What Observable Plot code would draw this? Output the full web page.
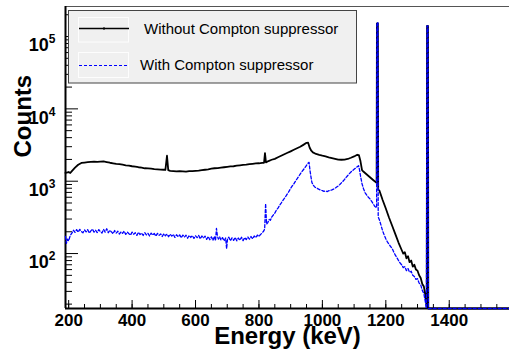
<!DOCTYPE html>
<html><head><meta charset="utf-8">
<script src="https://cdn.jsdelivr.net/npm/d3@7"></script>
<script src="https://cdn.jsdelivr.net/npm/@observablehq/plot@0.6"></script>
<style>body{margin:0;background:#fff} svg{display:block}</style>
</head><body><div id="chart"></div>
<script>
// Energy (keV), counts — spectrum without Compton suppressor
const withoutSuppressor = [
[190,1300],[200,1340],[205,1300],[210,1380],[220,1540],[230,1690],[240,1790],[250,1810],[260,1830],[270,1850],
[280,1860],[290,1850],[300,1870],[310,1880],[320,1840],[330,1800],[340,1770],[350,1740],[360,1720],[370,1690],
[380,1660],[390,1640],[400,1610],[410,1590],[420,1560],[430,1540],[440,1510],[450,1500],[460,1490],[470,1470],
[480,1460],[490,1450],[500,1440],[505,1430],[510,2250],[514,1420],[520,1390],[530,1380],[540,1370],[550,1380],
[560,1370],[570,1360],[580,1380],[590,1380],[600,1390],[610,1400],[620,1420],[630,1440],[640,1460],[650,1490],
[660,1510],[670,1520],[680,1540],[690,1560],[700,1580],[710,1600],[720,1610],[730,1640],[740,1660],[750,1680],
[760,1690],[770,1720],[780,1740],[790,1760],[800,1770],[810,1790],[816,1800],[819,2450],[822,1820],[830,1900],
[840,1980],[850,2040],[860,2140],[870,2250],[880,2360],[890,2470],[900,2590],[910,2720],[920,2850],[930,2990],
[940,3180],[950,3390],[955,3400],[960,2900],[965,2640],[970,2500],[980,2380],[990,2310],[1000,2250],[1010,2200],
[1020,2140],[1030,2090],[1040,2040],[1050,1990],[1060,1980],[1070,1990],[1080,2030],[1090,2110],[1100,2200],[1110,2320],
[1115,2300],[1120,1900],[1125,1420],[1130,1350],[1140,1240],[1150,1135],[1160,1040],[1170,955],[1171,950],[1172,152000],
[1175,152000],[1176,770],[1180,740],[1190,550],[1200,420],[1210,315],[1220,242],[1230,186],[1240,142],[1250,112],
[1255,100],[1260,104],[1265,86],[1270,92],[1275,76],[1280,80],[1285,66],[1290,70],[1295,60],[1300,58],
[1305,50],[1310,46],[1315,38],[1320,35],[1325,26],[1329,18],[1330,140000],[1333,140000],[1334,0],[1590,0]
];
// Energy (keV), counts — spectrum with Compton suppressor
const withSuppressor = [
[190,172],[193,138],[196,158],[200,150],[205,178],[210,192],[215,210],[220,196],[225,214],[230,198],
[235,216],[240,202],[245,194],[250,212],[255,199],[260,214],[265,192],[270,206],[275,218],[280,198],
[285,210],[290,195],[295,214],[300,200],[305,192],[310,216],[315,198],[320,220],[325,194],[330,210],
[335,199],[340,188],[345,208],[350,192],[355,203],[360,186],[365,200],[370,190],[375,204],[380,184],
[385,198],[390,188],[395,180],[400,198],[405,185],[410,194],[415,178],[420,197],[425,183],[430,192],
[435,178],[440,194],[445,181],[450,190],[455,175],[460,192],[465,180],[470,189],[475,174],[480,190],
[485,178],[490,187],[495,172],[500,188],[505,176],[510,186],[515,171],[520,185],[525,174],[530,184],
[535,167],[540,182],[545,171],[550,181],[555,165],[560,180],[565,169],[570,179],[575,163],[580,178],
[585,167],[590,177],[595,162],[600,176],[605,166],[610,178],[615,160],[620,175],[625,164],[630,174],
[635,157],[640,172],[645,155],[650,170],[655,152],[660,174],[663,150],[666,222],[669,176],[672,158],
[676,170],[680,154],[685,166],[690,150],[695,164],[698,117],[701,162],[705,168],[710,150],[715,165],
[720,152],[725,167],[730,150],[735,164],[740,153],[745,168],[750,151],[755,166],[760,156],[765,170],
[770,158],[775,172],[780,160],[785,175],[790,166],[795,180],[800,172],[805,184],[810,192],[815,205],
[818,218],[821,490],[824,255],[828,268],[832,296],[836,288],[840,318],[845,340],[850,362],[855,398],
[860,425],[865,462],[870,498],[875,540],[880,578],[885,622],[890,672],[895,728],[900,795],[905,860],
[910,918],[915,1000],[920,1075],[925,1160],[930,1255],[935,1350],[940,1440],[945,1540],[950,1660],[955,1780],
[958,1820],[961,1400],[964,1150],[967,960],[970,900],[975,840],[980,812],[985,790],[990,770],[995,752],
[1000,740],[1005,722],[1010,736],[1015,718],[1020,738],[1025,744],[1030,758],[1035,776],[1040,800],[1045,830],
[1050,860],[1055,900],[1060,948],[1065,1000],[1070,1060],[1075,1130],[1080,1200],[1085,1270],[1090,1340],[1095,1400],
[1100,1460],[1105,1520],[1110,1590],[1114,1640],[1117,1450],[1120,1200],[1125,920],[1130,780],[1135,690],[1140,640],
[1145,600],[1150,570],[1155,530],[1160,490],[1165,450],[1170,430],[1171,430],[1172,155000],[1175,155000],[1176,320],
[1180,290],[1185,245],[1190,205],[1195,180],[1200,160],[1205,145],[1210,135],[1215,125],[1220,118],[1225,105],
[1230,95],[1235,88],[1240,80],[1245,74],[1250,70],[1255,64],[1260,66],[1265,58],[1270,62],[1275,55],
[1280,57],[1285,50],[1290,48],[1295,44],[1300,45],[1305,39],[1310,37],[1315,31],[1320,28],[1325,21],
[1328,17],[1330,140000],[1333,140000],[1334,0],[1590,0]
];
const seriesNames = ["Without Compton suppressor", "With Compton suppressor"];
const xMajorTicks = [200, 400, 600, 800, 1000, 1200, 1400];
const yMajorTicks = [100, 1000, 10000, 100000];
const xTitle = "Energy (keV)";
const yTitle = "Counts";

const X_DOMAIN = [190, 1590];
const Y_DOMAIN = [17.4, 2.6e5];
const xMinorTicks = d3.range(200, 1590, 50);
const yMinorTicks = [10, 100, 1000, 10000, 100000]
  .flatMap(d => [2,3,4,5,6,7,8,9].map(k => k * d))
  .filter(v => v >= Y_DOMAIN[0] && v <= Y_DOMAIN[1]);

const floorY = v => Math.max(v, Y_DOMAIN[0]);
const FONT = "'Liberation Sans', Arial, Helvetica, sans-serif";

const svg = Plot.plot({
  width: 509, height: 352,
  marginLeft: 65, marginRight: 0, marginTop: 6, marginBottom: 44,
  style: {fontFamily: FONT, background: "white", overflow: "visible"},
  x: {domain: X_DOMAIN},
  y: {type: "log", domain: Y_DOMAIN},
  marks: [
    Plot.ruleY([Y_DOMAIN[1]], {stroke: "#555", strokeWidth: 1}),
    Plot.axisX({ticks: xMinorTicks, tickSize: -4, text: null, stroke: "black", strokeWidth: 1}),
    Plot.axisX({ticks: xMajorTicks, tickSize: -8, text: null, stroke: "black", strokeWidth: 1}),
    Plot.axisX({ticks: xMajorTicks, tickSize: 0, tickPadding: 5, tickFormat: d => String(d), fontSize: 17, fontWeight: "bold", fill: "black"}),
    Plot.axisY({ticks: yMinorTicks, tickSize: -7, text: null, stroke: "black", strokeWidth: 1}),
    Plot.axisY({ticks: yMajorTicks, tickSize: -13, text: null, stroke: "black", strokeWidth: 1}),
    Plot.axisY({ticks: yMajorTicks, tickSize: 0, tickPadding: 10, tickFormat: d => String(Math.round(Math.log10(d))), fontSize: 18, fontWeight: "bold", fill: "black"}),
    Plot.line(withoutSuppressor, {x: d => d[0], y: d => floorY(d[1]), stroke: "black", strokeWidth: 1.8, strokeLinejoin: "round"}),
    Plot.ruleX([X_DOMAIN[0]], {stroke: "black", strokeWidth: 2}),
    Plot.ruleY([Y_DOMAIN[0]], {stroke: "black", strokeWidth: 2}),
    Plot.line(withSuppressor, {x: d => d[0], y: d => floorY(d[1]), stroke: "#0000ff", strokeWidth: 1.3, strokeDasharray: "3,2"}),
    Plot.text([xTitle], {frameAnchor: "bottom", dy: 35, lineAnchor: "bottom", fontSize: 24, fontWeight: "bold", fill: "black"}),
    Plot.text([yTitle], {frameAnchor: "left", dx: -35, rotate: -90, lineAnchor: "bottom", fontSize: 24, fontWeight: "bold", fill: "black"})
  ]
});
document.getElementById("chart").appendChild(svg);

// y tick labels as 10^n with superscript
d3.select(svg).selectAll('g[aria-label="y-axis tick label"] text').each(function() {
  const t = d3.select(this);
  const e = t.text().trim();
  if (!/^\d$/.test(e)) return;
  t.text("");
  t.attr("dy", null);
  t.append("tspan").attr("dy", "0.5em").text("10");
  t.append("tspan").attr("dy", "-8").attr("font-size", 12).text(e);
});

// legend
const lg = d3.select(svg).append("g").attr("font-family", FONT).attr("text-anchor", "start");
lg.append("rect").attr("x", 68.5).attr("y", 10.5).attr("width", 288).attr("height", 72.5)
  .attr("fill", "#f0f0f0").attr("stroke", "#444").attr("stroke-width", 1);
lg.append("rect").attr("x", 78.5).attr("y", 17.5).attr("width", 50).attr("height", 24.5)
  .attr("fill", "none").attr("stroke", "#fdfdfd");
lg.append("rect").attr("x", 78.5).attr("y", 52.5).attr("width", 50).attr("height", 25)
  .attr("fill", "none").attr("stroke", "#fdfdfd");
lg.append("line").attr("x1", 79).attr("x2", 129).attr("y1", 28.5).attr("y2", 28.5)
  .attr("stroke", "black").attr("stroke-width", 1.4);
lg.append("line").attr("x1", 104).attr("x2", 104).attr("y1", 27).attr("y2", 30)
  .attr("stroke", "black").attr("stroke-width", 1);
lg.append("line").attr("x1", 79).attr("x2", 129).attr("y1", 65.5).attr("y2", 65.5)
  .attr("stroke", "#0000ff").attr("stroke-width", 1).attr("stroke-dasharray", "3,2");
lg.append("text").attr("x", 144).attr("y", 34).attr("font-size", 15).attr("fill", "black").attr("text-anchor", "start").text(seriesNames[0]);
lg.append("text").attr("x", 140).attr("y", 70).attr("font-size", 15).attr("fill", "black").attr("text-anchor", "start").text(seriesNames[1]);
</script>
</body></html>
